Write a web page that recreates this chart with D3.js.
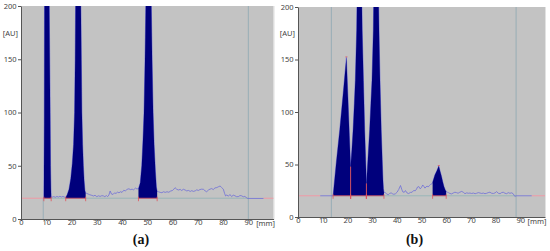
<!DOCTYPE html>
<html>
<head>
<meta charset="utf-8">
<script src="https://cdn.jsdelivr.net/npm/d3@7"></script>
<style>
  body { margin: 0; background: #fff; }
  svg { display: block; }
  .tick text { font-family: "Noto Sans", sans-serif; font-size: 7.5px; fill: #444; }
  .unit { font-family: "Noto Sans", sans-serif; font-size: 7.5px; fill: #444; }
  .cap { font-family: "Liberation Serif", serif; font-size: 14px; font-weight: bold; fill: #111; }
</style>
</head>
<body>
<svg width="550" height="251"></svg>
<script>
// scan (a): [mm, AU]
var signalA = [
	[8.8,19.5],[9.05,19.8],[9.1,40],[9.2,90],[9.3,200],[9.6,400],[10.2,600],[10.6,400],[11.2,200],[11.55,100],[11.7,50],[11.85,28],[11.95,20.6],
	[12.5,20.6],[13,21],[13.6,20.4],[14.2,21.2],[14.8,20.6],[15.4,21.3],[16,20.7],[16.6,21.2],[17.2,20.6],
	[17.7,20.2],[18.3,23],[19,28],[19.7,38],[20.3,52],[20.8,70],[21.2,100],[21.45,150],[21.6,200],[22.1,400],[22.6,600],[23.1,400],[23.7,200],[23.9,150],[24.1,100],[24.4,70],[24.7,50],[25,36],[25.3,27],[25.6,24.2],
	[26,24.1],[26.6,23.4],[27.2,22.8],[28,22.2],[28.7,21.6],[29.3,22.3],[30,21],[30.7,21.8],[31.3,21.2],[32,21.9],[32.6,21.7],[33.2,21],[33.8,22],[34.3,21],[34.8,22.5],[35.3,26.3],[35.8,23.5],[36.4,23],[37,24.5],[37.6,24],[38.2,25.2],[38.8,24.6],[39.4,25.6],[40,25],[40.7,27],[41.3,26.4],[42,27.8],[42.7,28.4],[43.3,27.6],[44,28],[44.6,27.4],[45.3,29],[45.9,28.2],
	[46.5,28.5],[47.2,34],[47.8,50],[48.3,75],[48.7,100],[49.1,150],[49.4,200],[50,400],[50.5,600],[51,400],[51.6,200],[51.9,150],[52.3,100],[52.7,70],[53.2,45],[53.6,30],[53.9,26],
	[54.4,25.6],[55.1,25],[55.8,24.7],[56.4,25.6],[57.1,25],[57.8,25.6],[58.5,25.1],[59.2,26.2],[60,26.8],[60.5,28],[61,29.4],[61.6,28],[62.3,27.2],[63,27.8],[63.6,26.8],[64.3,27.9],[65,27.2],[65.6,26.4],[66.3,26.8],[67,25.9],[67.6,26.6],[68.3,25.9],[69,26.5],[69.6,27.4],[70.2,26.8],[70.8,27.6],[71.5,28],[72.2,27.9],[72.8,26.6],[73.5,25.6],[74.2,27.2],[74.8,28],[75.5,28.6],[76.1,27.6],[76.8,29.2],[77.5,29.5],[78.1,30.2],[78.8,31],[79.4,29.6],[80.1,28],[80.6,24],[81,21.6],[81.5,22.6],[82.1,21.4],[82.7,23],[83.4,21],[84,22.4],[84.7,21.8],[85.3,21],[86,21],[86.7,22],[87.3,21.8],[88,20.9],[88.6,21.2],[89.2,20.2],[89.7,19.3],[96,19.3]
];
var peaksA = [[9.05, 11.95], [17.7, 25.6], [46.5, 53.9]];
var dropsA = [];
var topsA = [];
var baseA = 19.5;
var startA = 8.8, endA = 90;

// scan (b): [mm, AU]
var signalB = [
	[9,20.2],[13.9,20.2],[14.2,20.3],[15.5,52],[16.9,83],[18.3,118],[19.6,152],[20.2,115],[20.8,78],
	[21.3,48],[21.8,64],[22.3,83],[22.8,108],[23.2,130],[23.75,178],[24.3,280],[24.8,400],[25.4,280],[26,178],[26.5,130],[27,83],[27.4,55],
	[27.7,32],[28.3,55],[29,83],[29.5,108],[29.95,130],[30.5,178],[31,280],[31.6,400],[32.2,280],[32.8,178],[33.2,130],[33.7,83],[34.1,55],[34.4,35],[34.6,27],[34.8,23.5],
	[35.3,23.2],[35.9,22],[36.5,21.2],[37.1,22.4],[37.7,23],[38.2,22.2],[38.8,21.6],[39.5,22.2],[40.1,23.6],[40.8,26.3],[41.5,30],[42,26.4],[42.4,24],[43,23.5],[43.5,25.2],[44.1,23],[44.8,22.3],[45.5,23.4],[46.2,23.6],[46.8,25.2],[47.5,25],[48,26.6],[48.4,28.6],[48.9,29],[49.5,26.8],[50,28.2],[50.5,30.5],[51,29],[51.4,27.5],[51.8,28.6],[52.3,29.5],[52.7,28.5],[53.2,30],[53.7,31],[54.2,31.5],
	[54.5,33],[55.4,40],[56.2,44],[57,48.5],[57.6,43],[58.1,38.7],[58.6,33.5],[59.1,29],[59.6,26],[60,24.4],
	[60.5,23.6],[60.9,23.2],[61.5,22.4],[62.2,22],[62.8,22.8],[63.5,23.6],[64.2,23.2],[64.8,22.6],[65.5,23.6],[66.3,24.4],[67,23.4],[67.6,22.2],[68.3,23],[69,22.6],[69.6,22.8],[70.3,22.4],[71,22.8],[71.7,22.2],[72.3,22.6],[73,23.2],[73.7,22.8],[74.4,22.4],[75,22.8],[75.7,22.2],[76.4,22.6],[77,23.2],[77.7,23.6],[78.4,22.6],[79.1,22.4],[79.8,23],[80.4,24.2],[81.1,22.6],[81.8,22.2],[82.4,23.2],[83.1,23.6],[83.8,22.6],[84.5,22.2],[85.1,23.2],[85.8,22.6],[86.5,23],[87.1,22.2],[87.8,19.6],[88.3,20.2],[94.6,20.2]
];
var peaksB = [[14.2, 21.3], [21.3, 27.7], [27.7, 34.8], [54.5, 60]];
var dropsB = [21.3, 27.7];
var topsB = [[19.6, 152], [57, 48.5]];
var baseB = 20.2;
var startB = 13.5, endB = 88.3;

var xTicks = [0, 10, 20, 30, 40, 50, 60, 70, 80, 90];
var yTicks = [0, 50, 100, 150, 200];

var svg = d3.select("svg");

function drawPanel(id, signal, peaks, drops, tops, base, start, end, box, caption, fullStart) {
	var x = d3.scaleLinear().domain([0, 100]).range([box.left, box.right]),
		y = d3.scaleLinear().domain([0, 200]).range([box.bottom, box.top]);

	var g = svg.append("g");

	g.append("clipPath").attr("id", "clip" + id)
		.append("rect")
		.attr("x", box.left).attr("y", box.top)
		.attr("width", box.right - box.left).attr("height", box.bottom - box.top);

	g.append("rect")
		.attr("x", box.left).attr("y", box.top)
		.attr("width", box.right - box.left).attr("height", box.bottom - box.top)
		.style("fill", "#c3c3c3");
	g.append("line")
		.attr("x1", box.right + 0.5).attr("x2", box.right + 0.5)
		.attr("y1", box.top).attr("y2", box.bottom)
		.style("stroke", "#e2e2e2");

	var plot = g.append("g").attr("clip-path", "url(#clip" + id + ")");

	var first = signal[0][0], last = signal[signal.length - 1][0];

	// baseline outside the scanned range
	[[0, first], [last, 100]].forEach(function(s) {
		plot.append("line")
			.attr("x1", x(s[0])).attr("x2", x(s[1]))
			.attr("y1", y(base)).attr("y2", y(base))
			.style("stroke", "#f09aa6").style("stroke-width", 1);
	});
	plot.append("line")
		.attr("x1", x(start)).attr("x2", x(end))
		.attr("y1", y(base)).attr("y2", y(base))
		.style("stroke", "#8fb3b5").style("stroke-width", 0.8);

	// start / end lines
	plot.append("line")
		.attr("x1", x(start)).attr("x2", x(start))
		.attr("y1", fullStart ? box.top : y(base)).attr("y2", box.bottom)
		.style("stroke", "#93aab4").style("stroke-width", 0.9);
	plot.append("line")
		.attr("x1", x(end)).attr("x2", x(end))
		.attr("y1", box.top).attr("y2", box.bottom)
		.style("stroke", "#93aab4").style("stroke-width", 0.9);

	var line = d3.line()
		.x(function(d) { return x(d[0]); })
		.y(function(d) { return y(d[1]); });

	plot.append("path")
		.datum(signal)
		.attr("d", line)
		.style("fill", "none")
		.style("stroke", "#6f6fd8")
		.style("stroke-width", 0.8);

	var area = d3.area()
		.x(function(d) { return x(d[0]); })
		.y0(y(base))
		.y1(function(d) { return y(d[1]); });

	peaks.forEach(function(p) {
		var pts = signal.filter(function(d) { return d[0] >= p[0] && d[0] <= p[1]; });
		plot.append("path")
			.datum(pts)
			.attr("d", area)
			.style("fill", "#00007c");
		plot.append("line")
			.attr("x1", x(p[0])).attr("x2", x(p[1]))
			.attr("y1", y(base)).attr("y2", y(base))
			.style("stroke", "#e0505a").style("stroke-width", 0.8);
		p.forEach(function(v) {
			plot.append("line")
				.attr("x1", x(v)).attr("x2", x(v))
				.attr("y1", y(base) - 1.5).attr("y2", y(base) + 3)
				.style("stroke", "#e0505a").style("stroke-width", 0.8);
		});
	});

	drops.forEach(function(v) {
		var d = signal.filter(function(s) { return s[0] === v; })[0];
		plot.append("line")
			.attr("x1", x(v)).attr("x2", x(v))
			.attr("y1", y(d[1])).attr("y2", y(base) + 3)
			.style("stroke", "#e0505a").style("stroke-width", 0.9);
	});

	tops.forEach(function(t) {
		plot.append("line")
			.attr("x1", x(t[0]) - 1).attr("x2", x(t[0]) + 1)
			.attr("y1", y(t[1]) - 0.5).attr("y2", y(t[1]) - 0.5)
			.style("stroke", "#e0505a").style("stroke-width", 0.8);
	});

	// axes
	var ax = g.append("g")
		.attr("transform", "translate(0," + box.bottom + ")")
		.call(d3.axisBottom(x).tickValues(xTicks).tickSize(2).tickSizeOuter(0));
	ax.selectAll("text").attr("y", 1);
	var ay = g.append("g")
		.attr("transform", "translate(" + box.left + ",0)")
		.call(d3.axisLeft(y).tickValues(yTicks).tickSize(3).tickSizeOuter(0).tickPadding(1.5));
	[ax, ay].forEach(function(a) {
		a.select(".domain").style("stroke", "#555");
		a.selectAll(".tick line").style("stroke", "#555");
	});

	g.append("text").attr("class", "unit")
		.attr("x", box.left - 3).attr("y", y(175) + 3)
		.attr("text-anchor", "end")
		.text("[AU]");
	g.append("text").attr("class", "unit")
		.attr("x", box.right + 1.5).attr("y", box.bottom + 7)
		.attr("text-anchor", "end")
		.text("[mm]");

	g.append("text").attr("class", "cap")
		.attr("x", caption.x).attr("y", 244)
		.attr("text-anchor", "middle")
		.text(caption.text);
}

drawPanel("a", signalA, peaksA, dropsA, topsA, baseA, startA, endA,
	{ left: 21, right: 273.6, top: 6, bottom: 219 }, { x: 141, text: "(a)" }, false);
drawPanel("b", signalB, peaksB, dropsB, topsB, baseB, startB, endB,
	{ left: 298, right: 545, top: 7, bottom: 217 }, { x: 414.5, text: "(b)" }, true);
</script>
</body>
</html>
